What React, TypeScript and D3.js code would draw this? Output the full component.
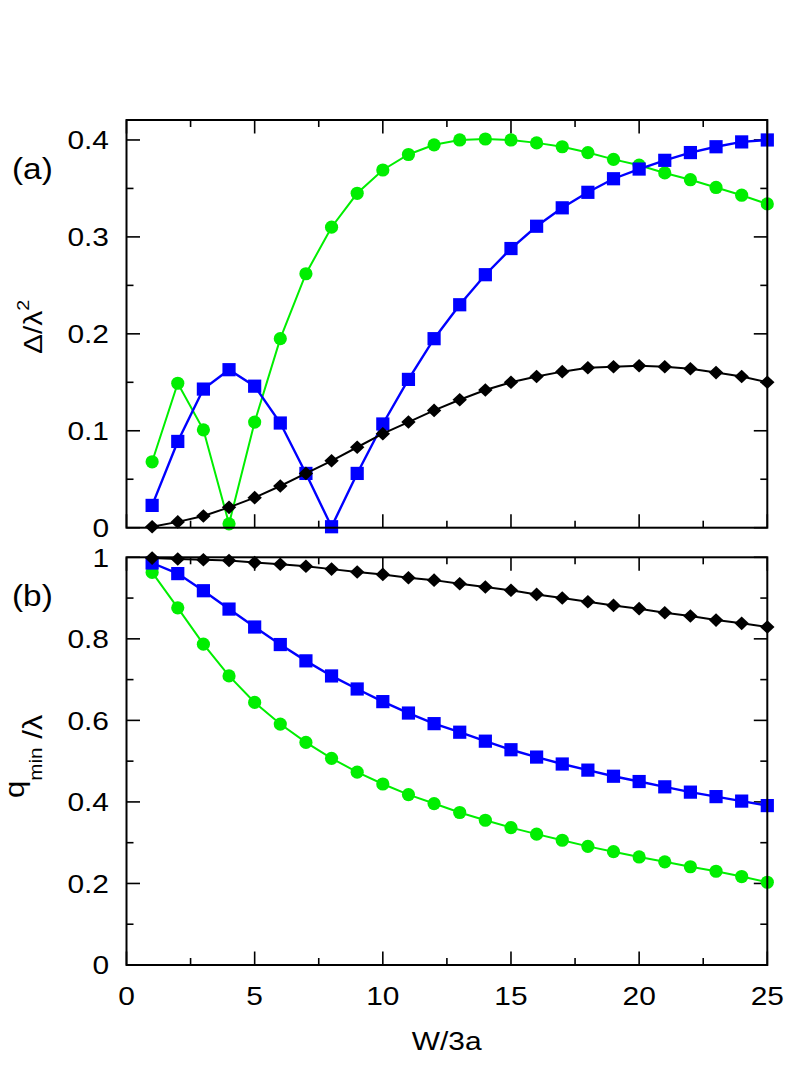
import React from 'react'
import * as d3 from 'd3'

// W/3a values (shared by every series)
const wValues = [1, 2, 3, 4, 5, 6, 7, 8, 9, 10, 11, 12, 13, 14, 15, 16, 17, 18, 19, 20, 21, 22, 23, 24, 25]

// panel (a): gap / lambda^2
const gapGreen = [0.068, 0.149, 0.101, 0.004, 0.109, 0.195, 0.262, 0.310, 0.345, 0.369, 0.385, 0.395, 0.400, 0.401, 0.400, 0.397, 0.393, 0.387, 0.380, 0.374, 0.366, 0.359, 0.351, 0.343, 0.334]
const gapBlue = [0.023, 0.089, 0.143, 0.163, 0.146, 0.108, 0.056, 0.001, 0.056, 0.107, 0.153, 0.195, 0.230, 0.261, 0.288, 0.311, 0.330, 0.346, 0.360, 0.370, 0.379, 0.387, 0.393, 0.398, 0.400]
const gapBlack = [0.001, 0.006, 0.012, 0.021, 0.031, 0.043, 0.056, 0.069, 0.083, 0.097, 0.109, 0.121, 0.132, 0.142, 0.150, 0.156, 0.161, 0.165, 0.166, 0.167, 0.166, 0.164, 0.160, 0.156, 0.150]

// panel (b): q_min / lambda
const qGreen = [0.963, 0.876, 0.787, 0.709, 0.644, 0.591, 0.546, 0.507, 0.473, 0.444, 0.418, 0.396, 0.374, 0.355, 0.337, 0.321, 0.306, 0.291, 0.278, 0.265, 0.253, 0.241, 0.230, 0.217, 0.203]
const qBlue = [0.986, 0.960, 0.918, 0.873, 0.829, 0.786, 0.746, 0.709, 0.677, 0.646, 0.618, 0.592, 0.571, 0.549, 0.528, 0.510, 0.493, 0.478, 0.463, 0.450, 0.437, 0.424, 0.413, 0.402, 0.391]
const qBlack = [0.998, 0.996, 0.994, 0.992, 0.987, 0.983, 0.978, 0.971, 0.964, 0.958, 0.950, 0.944, 0.935, 0.927, 0.919, 0.909, 0.900, 0.891, 0.882, 0.874, 0.864, 0.856, 0.846, 0.838, 0.829]

const xMajor = [0, 5, 10, 15, 20, 25]
const xMinor = [2.5, 7.5, 12.5, 17.5, 22.5]
const xTickLabels = ['0', '5', '10', '15', '20', '25']

const gapMajor = [0, 0.1, 0.2, 0.3, 0.4]
const gapMinor = [0.05, 0.15, 0.25, 0.35]
const gapTickLabels = ['0', '0.1', '0.2', '0.3', '0.4']

const qMajor = [0, 0.2, 0.4, 0.6, 0.8, 1]
const qMinor = [0.1, 0.3, 0.5, 0.7, 0.9]
const qTickLabels = ['0', '0.2', '0.4', '0.6', '0.8', '1']

const GREEN = '#00ee00'
const BLUE = '#0000ff'
const BLACK = '#000000'
const FONT = '"Liberation Sans", Arial, Helvetica, sans-serif'
const STRETCH = 1.15

const left = 126.5
const right = 767.3

const x = d3.scaleLinear().domain([0, 25]).range([left, right])

type Series = { values: number[]; color: string; marker: 'circle' | 'square' | 'diamond'; width: number }

const Marker = ({ kind, cx, cy, color }: { kind: string; cx: number; cy: number; color: string }) => {
    if (kind === 'circle') return <circle cx={cx} cy={cy} r={6.6} fill={color} />
    if (kind === 'square') return <rect x={cx - 6.6} y={cy - 6.6} width={13.2} height={13.2} fill={color} />
    return <path d={`M${cx},${cy - 6.8}L${cx + 7.2},${cy}L${cx},${cy + 6.8}L${cx - 7.2},${cy}Z`} fill={color} />
}

const Label = ({ x0, y0, anchor = 'start', size = 26, rotate = 0, children }: any) => (
    <text
        transform={`translate(${x0},${y0}) rotate(${rotate}) scale(${STRETCH},1)`}
        textAnchor={anchor}
        fontSize={size}
        fontFamily={FONT}
        fill="#000"
    >
        {children}
    </text>
)

const Panel = ({ top, bottom, yMax, major, minor, tickLabels, series, showX }: any) => {
    const y = d3.scaleLinear().domain([0, yMax]).range([bottom, top])
    const lineGen = d3.line<number>()
        .x((_, i) => x(wValues[i]))
        .y(d => y(d))
    const big = 13.5
    const small = 7
    return (
        <g>
            {/* ticks, mirrored on all four sides */}
            <g stroke="#000" strokeWidth={1.6}>
                {major.map((v: number) => (
                    <g key={'ym' + v}>
                        <line x1={left} x2={left + big} y1={y(v)} y2={y(v)} />
                        <line x1={right} x2={right - big} y1={y(v)} y2={y(v)} />
                    </g>
                ))}
                {minor.map((v: number) => (
                    <g key={'yn' + v}>
                        <line x1={left} x2={left + small} y1={y(v)} y2={y(v)} />
                        <line x1={right} x2={right - small} y1={y(v)} y2={y(v)} />
                    </g>
                ))}
                {xMajor.map(v => (
                    <g key={'xm' + v}>
                        <line x1={x(v)} x2={x(v)} y1={bottom} y2={bottom - big} />
                        <line x1={x(v)} x2={x(v)} y1={top} y2={top + big} />
                    </g>
                ))}
                {xMinor.map(v => (
                    <g key={'xn' + v}>
                        <line x1={x(v)} x2={x(v)} y1={bottom} y2={bottom - small} />
                        <line x1={x(v)} x2={x(v)} y1={top} y2={top + small} />
                    </g>
                ))}
            </g>

            {series.map((s: Series, k: number) => (
                <g key={k}>
                    <path d={lineGen(s.values) || ''} fill="none" stroke={s.color} strokeWidth={s.width} />
                    {s.values.map((v, i) => (
                        <Marker key={i} kind={s.marker} cx={x(wValues[i])} cy={y(v)} color={s.color} />
                    ))}
                </g>
            ))}

            <rect x={left} y={top} width={right - left} height={bottom - top} fill="none" stroke="#000" strokeWidth={2} />

            {major.map((v: number, i: number) => (
                <Label key={'yl' + v} x0={109} y0={y(v) + 9.3} anchor="end">{tickLabels[i]}</Label>
            ))}
            {showX && xMajor.map((v, i) => (
                <Label key={'xl' + v} x0={x(v)} y0={1005} anchor="middle">{xTickLabels[i]}</Label>
            ))}
        </g>
    )
}

export default function App() {
    const topSeries: Series[] = [
        { values: gapGreen, color: GREEN, marker: 'circle', width: 2 },
        { values: gapBlue, color: BLUE, marker: 'square', width: 2.4 },
        { values: gapBlack, color: BLACK, marker: 'diamond', width: 2 },
    ]
    const bottomSeries: Series[] = [
        { values: qGreen, color: GREEN, marker: 'circle', width: 2 },
        { values: qBlue, color: BLUE, marker: 'square', width: 2.4 },
        { values: qBlack, color: BLACK, marker: 'diamond', width: 2 },
    ]
    return (
        <svg width={789} height={1086} style={{ position: 'absolute', left: 0, top: 0, background: '#fff' }}>
            <rect width={789} height={1086} fill="#fff" />
            <Panel top={120} bottom={527.7} yMax={0.4206} major={gapMajor} minor={gapMinor}
                tickLabels={gapTickLabels} series={topSeries} showX={false} />
            <Panel top={557.3} bottom={965} yMax={1} major={qMajor} minor={qMinor}
                tickLabels={qTickLabels} series={bottomSeries} showX={true} />

            <Label x0={12} y0={179} size={29}>(a)</Label>
            <Label x0={12} y0={606} size={29}>(b)</Label>

            <Label x0={42} y0={354} size={26} rotate={-90}>
                Δ/λ<tspan dy={-13} fontSize={17}>2</tspan>
            </Label>
            <Label x0={42} y0={798} size={27} rotate={-90}>
                <tspan dy={-18}>q</tspan><tspan dy={18} fontSize={18}>min</tspan><tspan> /λ</tspan>
            </Label>

            <Label x0={446.7} y0={1050} anchor="middle">W/3a</Label>
        </svg>
    )
}
